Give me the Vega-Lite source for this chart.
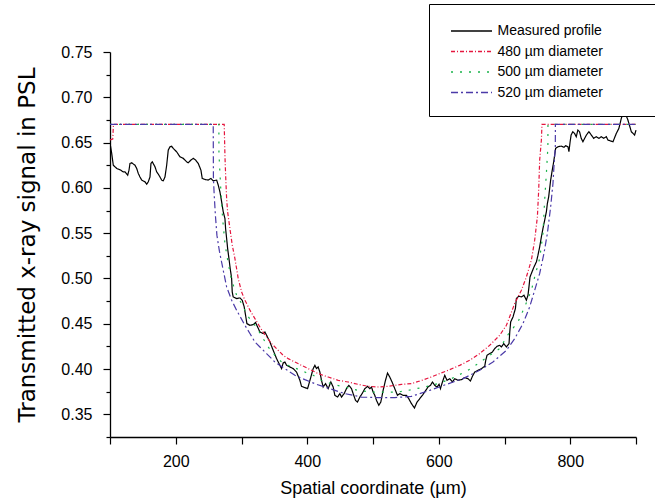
{
"$schema": "https://vega.github.io/schema/vega-lite/v6.json",
"width": 526, "height": 385,
"autosize": {"type": "none"},
"padding": {"left": 110, "top": 52, "right": 19, "bottom": 63},
"background": "white",
"config": {"view": {"stroke": null}, "font": "Liberation Sans"},
"data": {"values": [
{"s":"Measured profile","x":100.8,"y":0.646},{"s":"Measured profile","x":102.6,"y":0.638},{"s":"Measured profile","x":105,"y":0.625},{"s":"Measured profile","x":110.2,"y":0.6215},{"s":"Measured profile","x":115.2,"y":0.62},{"s":"Measured profile","x":120.2,"y":0.6177},{"s":"Measured profile","x":122.8,"y":0.6177},{"s":"Measured profile","x":126.9,"y":0.614},{"s":"Measured profile","x":128.9,"y":0.6196},{"s":"Measured profile","x":130.4,"y":0.627},{"s":"Measured profile","x":133,"y":0.6277},{"s":"Measured profile","x":138,"y":0.625},{"s":"Measured profile","x":140.6,"y":0.6215},{"s":"Measured profile","x":143,"y":0.616},{"s":"Measured profile","x":145.6,"y":0.612},{"s":"Measured profile","x":148.2,"y":0.6086},{"s":"Measured profile","x":153.2,"y":0.6067},{"s":"Measured profile","x":155.8,"y":0.604},{"s":"Measured profile","x":158.2,"y":0.6067},{"s":"Measured profile","x":160.8,"y":0.612},{"s":"Measured profile","x":162.3,"y":0.627},{"s":"Measured profile","x":164.3,"y":0.6288},{"s":"Measured profile","x":168.4,"y":0.6233},{"s":"Measured profile","x":171,"y":0.6177},{"s":"Measured profile","x":174.5,"y":0.614},{"s":"Measured profile","x":178.6,"y":0.6086},{"s":"Measured profile","x":181,"y":0.6078},{"s":"Measured profile","x":183.6,"y":0.612},{"s":"Measured profile","x":186.2,"y":0.625},{"s":"Measured profile","x":188.6,"y":0.6417},{"s":"Measured profile","x":191.2,"y":0.6454},{"s":"Measured profile","x":193.8,"y":0.646},{"s":"Measured profile","x":196.2,"y":0.6436},{"s":"Measured profile","x":201.4,"y":0.6398},{"s":"Measured profile","x":206.4,"y":0.6343},{"s":"Measured profile","x":211.4,"y":0.6326},{"s":"Measured profile","x":216.6,"y":0.6288},{"s":"Measured profile","x":219,"y":0.6277},{"s":"Measured profile","x":223.1,"y":0.6307},{"s":"Measured profile","x":226.6,"y":0.6326},{"s":"Measured profile","x":230.2,"y":0.6307},{"s":"Measured profile","x":234.2,"y":0.627},{"s":"Measured profile","x":238.3,"y":0.6196},{"s":"Measured profile","x":240.3,"y":0.6104},{"s":"Measured profile","x":244.4,"y":0.6093},{"s":"Measured profile","x":249.4,"y":0.6086},{"s":"Measured profile","x":253.5,"y":0.6104},{"s":"Measured profile","x":257,"y":0.6078},{"s":"Measured profile","x":262.2,"y":0.6086},{"s":"Measured profile","x":264.6,"y":0.6031},{"s":"Measured profile","x":267.2,"y":0.5956},{"s":"Measured profile","x":269.8,"y":0.5846},{"s":"Measured profile","x":272.2,"y":0.5736},{"s":"Measured profile","x":274.8,"y":0.5663},{"s":"Measured profile","x":275.8,"y":0.5552},{"s":"Measured profile","x":277.4,"y":0.5441},{"s":"Measured profile","x":278.9,"y":0.5331},{"s":"Measured profile","x":280.9,"y":0.5221},{"s":"Measured profile","x":282.8,"y":0.511},{"s":"Measured profile","x":285,"y":0.4999},{"s":"Measured profile","x":285.9,"y":0.4851},{"s":"Measured profile","x":287.4,"y":0.4796},{"s":"Measured profile","x":292.6,"y":0.4778},{"s":"Measured profile","x":297.6,"y":0.4785},{"s":"Measured profile","x":301.1,"y":0.476},{"s":"Measured profile","x":304.1,"y":0.4686},{"s":"Measured profile","x":306.2,"y":0.4594},{"s":"Measured profile","x":308.2,"y":0.4502},{"s":"Measured profile","x":312.8,"y":0.4483},{"s":"Measured profile","x":317.8,"y":0.4491},{"s":"Measured profile","x":321.4,"y":0.4513},{"s":"Measured profile","x":324.5,"y":0.4465},{"s":"Measured profile","x":328,"y":0.4409},{"s":"Measured profile","x":333,"y":0.4392},{"s":"Measured profile","x":335.6,"y":0.4409},{"s":"Measured profile","x":338.2,"y":0.4373},{"s":"Measured profile","x":343.2,"y":0.4299},{"s":"Measured profile","x":348.2,"y":0.4207},{"s":"Measured profile","x":353.3,"y":0.4116},{"s":"Measured profile","x":358.4,"y":0.4041},{"s":"Measured profile","x":360.9,"y":0.4005},{"s":"Measured profile","x":363.4,"y":0.4067},{"s":"Measured profile","x":366,"y":0.4078},{"s":"Measured profile","x":368.6,"y":0.4041},{"s":"Measured profile","x":373.6,"y":0.4023},{"s":"Measured profile","x":378.6,"y":0.4005},{"s":"Measured profile","x":383.7,"y":0.3967},{"s":"Measured profile","x":388.8,"y":0.3876},{"s":"Measured profile","x":391.3,"y":0.3809},{"s":"Measured profile","x":396.4,"y":0.3795},{"s":"Measured profile","x":400.5,"y":0.3784},{"s":"Measured profile","x":402.4,"y":0.3832},{"s":"Measured profile","x":405.5,"y":0.3912},{"s":"Measured profile","x":409,"y":0.4005},{"s":"Measured profile","x":411.6,"y":0.4041},{"s":"Measured profile","x":414.1,"y":0.4005},{"s":"Measured profile","x":416.6,"y":0.4023},{"s":"Measured profile","x":419.2,"y":0.3967},{"s":"Measured profile","x":421.7,"y":0.3876},{"s":"Measured profile","x":424.2,"y":0.3802},{"s":"Measured profile","x":427.8,"y":0.3839},{"s":"Measured profile","x":431.8,"y":0.3784},{"s":"Measured profile","x":435.9,"y":0.3857},{"s":"Measured profile","x":439.4,"y":0.3802},{"s":"Measured profile","x":442,"y":0.371},{"s":"Measured profile","x":446.1,"y":0.3691},{"s":"Measured profile","x":449.6,"y":0.3729},{"s":"Measured profile","x":452.1,"y":0.3691},{"s":"Measured profile","x":456.1,"y":0.3729},{"s":"Measured profile","x":459.7,"y":0.3784},{"s":"Measured profile","x":463.2,"y":0.382},{"s":"Measured profile","x":467.3,"y":0.3784},{"s":"Measured profile","x":469.8,"y":0.3729},{"s":"Measured profile","x":473.4,"y":0.3655},{"s":"Measured profile","x":476.4,"y":0.3636},{"s":"Measured profile","x":480,"y":0.3691},{"s":"Measured profile","x":483.5,"y":0.3729},{"s":"Measured profile","x":487.6,"y":0.3784},{"s":"Measured profile","x":491.7,"y":0.3809},{"s":"Measured profile","x":495.2,"y":0.3784},{"s":"Measured profile","x":497.7,"y":0.3802},{"s":"Measured profile","x":500.2,"y":0.3746},{"s":"Measured profile","x":502.7,"y":0.371},{"s":"Measured profile","x":505.3,"y":0.3655},{"s":"Measured profile","x":508.8,"y":0.36},{"s":"Measured profile","x":511.9,"y":0.3636},{"s":"Measured profile","x":515.4,"y":0.3765},{"s":"Measured profile","x":519,"y":0.3876},{"s":"Measured profile","x":522.1,"y":0.3956},{"s":"Measured profile","x":525.5,"y":0.3912},{"s":"Measured profile","x":529,"y":0.3857},{"s":"Measured profile","x":533.1,"y":0.3784},{"s":"Measured profile","x":537.2,"y":0.371},{"s":"Measured profile","x":540.7,"y":0.3729},{"s":"Measured profile","x":545.8,"y":0.371},{"s":"Measured profile","x":550.9,"y":0.371},{"s":"Measured profile","x":554.4,"y":0.3673},{"s":"Measured profile","x":558.5,"y":0.3618},{"s":"Measured profile","x":563,"y":0.357},{"s":"Measured profile","x":567,"y":0.3636},{"s":"Measured profile","x":571.1,"y":0.3673},{"s":"Measured profile","x":576.2,"y":0.3721},{"s":"Measured profile","x":580.3,"y":0.3765},{"s":"Measured profile","x":583.7,"y":0.3802},{"s":"Measured profile","x":587.4,"y":0.382},{"s":"Measured profile","x":590.4,"y":0.3857},{"s":"Measured profile","x":593.9,"y":0.382},{"s":"Measured profile","x":597.4,"y":0.3802},{"s":"Measured profile","x":600.5,"y":0.3832},{"s":"Measured profile","x":602.6,"y":0.3784},{"s":"Measured profile","x":605.6,"y":0.3857},{"s":"Measured profile","x":609.1,"y":0.3931},{"s":"Measured profile","x":612.6,"y":0.3876},{"s":"Measured profile","x":616.7,"y":0.3894},{"s":"Measured profile","x":620.8,"y":0.3857},{"s":"Measured profile","x":624.3,"y":0.3894},{"s":"Measured profile","x":629.3,"y":0.3876},{"s":"Measured profile","x":634.5,"y":0.3883},{"s":"Measured profile","x":639.5,"y":0.3906},{"s":"Measured profile","x":644.5,"y":0.3894},{"s":"Measured profile","x":648.2,"y":0.3868},{"s":"Measured profile","x":651.2,"y":0.392},{"s":"Measured profile","x":654.7,"y":0.3967},{"s":"Measured profile","x":659.7,"y":0.3986},{"s":"Measured profile","x":664.9,"y":0.4005},{"s":"Measured profile","x":669.9,"y":0.403},{"s":"Measured profile","x":671.5,"y":0.4097},{"s":"Measured profile","x":673.4,"y":0.4152},{"s":"Measured profile","x":677.5,"y":0.4171},{"s":"Measured profile","x":681.6,"y":0.4188},{"s":"Measured profile","x":685.1,"y":0.4226},{"s":"Measured profile","x":688.6,"y":0.4251},{"s":"Measured profile","x":692.7,"y":0.4262},{"s":"Measured profile","x":695.3,"y":0.4244},{"s":"Measured profile","x":698.8,"y":0.4281},{"s":"Measured profile","x":702.9,"y":0.4244},{"s":"Measured profile","x":706.9,"y":0.4281},{"s":"Measured profile","x":708,"y":0.4409},{"s":"Measured profile","x":709.4,"y":0.452},{"s":"Measured profile","x":712.9,"y":0.4575},{"s":"Measured profile","x":716.6,"y":0.4668},{"s":"Measured profile","x":718.1,"y":0.4779},{"s":"Measured profile","x":721.6,"y":0.4804},{"s":"Measured profile","x":725.7,"y":0.4796},{"s":"Measured profile","x":729.6,"y":0.4815},{"s":"Measured profile","x":733.3,"y":0.476},{"s":"Measured profile","x":735.7,"y":0.4815},{"s":"Measured profile","x":737.2,"y":0.4907},{"s":"Measured profile","x":738.8,"y":0.5017},{"s":"Measured profile","x":741.8,"y":0.5072},{"s":"Measured profile","x":744.9,"y":0.5128},{"s":"Measured profile","x":748.5,"y":0.5183},{"s":"Measured profile","x":750.9,"y":0.5257},{"s":"Measured profile","x":753.5,"y":0.5349},{"s":"Measured profile","x":756.1,"y":0.5459},{"s":"Measured profile","x":758.5,"y":0.5552},{"s":"Measured profile","x":761.1,"y":0.5644},{"s":"Measured profile","x":763.7,"y":0.5736},{"s":"Measured profile","x":765.2,"y":0.5828},{"s":"Measured profile","x":767.2,"y":0.5901},{"s":"Measured profile","x":768.7,"y":0.5994},{"s":"Measured profile","x":770.2,"y":0.6086},{"s":"Measured profile","x":772.2,"y":0.6178},{"s":"Measured profile","x":774.4,"y":0.627},{"s":"Measured profile","x":776.3,"y":0.6362},{"s":"Measured profile","x":777.8,"y":0.6436},{"s":"Measured profile","x":781.3,"y":0.6454},{"s":"Measured profile","x":786.5,"y":0.6461},{"s":"Measured profile","x":790.4,"y":0.6447},{"s":"Measured profile","x":793,"y":0.6465},{"s":"Measured profile","x":796.5,"y":0.6454},{"s":"Measured profile","x":798,"y":0.64},{"s":"Measured profile","x":799.8,"y":0.6509},{"s":"Measured profile","x":801.3,"y":0.6584},{"s":"Measured profile","x":803.9,"y":0.662},{"s":"Measured profile","x":806.5,"y":0.6602},{"s":"Measured profile","x":809.1,"y":0.6564},{"s":"Measured profile","x":811.6,"y":0.6638},{"s":"Measured profile","x":814.1,"y":0.662},{"s":"Measured profile","x":816.7,"y":0.6547},{"s":"Measured profile","x":819.3,"y":0.6509},{"s":"Measured profile","x":821.9,"y":0.6547},{"s":"Measured profile","x":824.5,"y":0.6583},{"s":"Measured profile","x":828.4,"y":0.662},{"s":"Measured profile","x":832.1,"y":0.6583},{"s":"Measured profile","x":835.6,"y":0.6547},{"s":"Measured profile","x":839.7,"y":0.6565},{"s":"Measured profile","x":843.6,"y":0.6547},{"s":"Measured profile","x":847.3,"y":0.6565},{"s":"Measured profile","x":850.8,"y":0.6547},{"s":"Measured profile","x":854.9,"y":0.6565},{"s":"Measured profile","x":857.3,"y":0.6528},{"s":"Measured profile","x":865,"y":0.6509},{"s":"Measured profile","x":870.1,"y":0.6602},{"s":"Measured profile","x":874,"y":0.6657},{"s":"Measured profile","x":877.7,"y":0.6768},{"s":"Measured profile","x":880.1,"y":0.6823},{"s":"Measured profile","x":882.7,"y":0.6834},{"s":"Measured profile","x":885,"y":0.68},{"s":"Measured profile","x":887.7,"y":0.6749},{"s":"Measured profile","x":892.9,"y":0.662},{"s":"Measured profile","x":897.9,"y":0.6583},{"s":"Measured profile","x":900,"y":0.6638},
{"s":"480  µm diameter","x":100,"y":0.653},{"s":"480  µm diameter","x":104.2,"y":0.654},{"s":"480  µm diameter","x":105.2,"y":0.67},{"s":"480  µm diameter","x":273.7,"y":0.67},{"s":"480  µm diameter","x":274.8,"y":0.636},{"s":"480  µm diameter","x":275.8,"y":0.615},{"s":"480  µm diameter","x":277.4,"y":0.588},{"s":"480  µm diameter","x":278.9,"y":0.5735},{"s":"480  µm diameter","x":282.4,"y":0.555},{"s":"480  µm diameter","x":285.9,"y":0.537},{"s":"480  µm diameter","x":290,"y":0.522},{"s":"480  µm diameter","x":295,"y":0.5},{"s":"480  µm diameter","x":300.2,"y":0.485},{"s":"480  µm diameter","x":305.2,"y":0.476},{"s":"480  µm diameter","x":312.8,"y":0.465},{"s":"480  µm diameter","x":320.4,"y":0.4557},{"s":"480  µm diameter","x":328,"y":0.4465},{"s":"480  µm diameter","x":334.5,"y":0.439},{"s":"480  µm diameter","x":345.7,"y":0.4281},{"s":"480  µm diameter","x":355.8,"y":0.4207},{"s":"480  µm diameter","x":363.4,"y":0.4152},{"s":"480  µm diameter","x":371,"y":0.4115},{"s":"480  µm diameter","x":381.2,"y":0.4078},{"s":"480  µm diameter","x":391.3,"y":0.4041},{"s":"480  µm diameter","x":401.4,"y":0.4005},{"s":"480  µm diameter","x":416.6,"y":0.395},{"s":"480  µm diameter","x":431.8,"y":0.3912},{"s":"480  µm diameter","x":447,"y":0.3876},{"s":"480  µm diameter","x":462.2,"y":0.3857},{"s":"480  µm diameter","x":477.4,"y":0.3831},{"s":"480  µm diameter","x":492.6,"y":0.381},{"s":"480  µm diameter","x":507.8,"y":0.3802},{"s":"480  µm diameter","x":523,"y":0.381},{"s":"480  µm diameter","x":543.3,"y":0.3831},{"s":"480  µm diameter","x":558.5,"y":0.3839},{"s":"480  µm diameter","x":571.1,"y":0.3868},{"s":"480  µm diameter","x":586.3,"y":0.3906},{"s":"480  µm diameter","x":601.5,"y":0.395},{"s":"480  µm diameter","x":616.7,"y":0.3994},{"s":"480  µm diameter","x":631.9,"y":0.4041},{"s":"480  µm diameter","x":647.1,"y":0.4097},{"s":"480  µm diameter","x":662.3,"y":0.4171},{"s":"480  µm diameter","x":677.5,"y":0.4262},{"s":"480  µm diameter","x":692.7,"y":0.4373},{"s":"480  µm diameter","x":702.9,"y":0.4483},{"s":"480  µm diameter","x":715.5,"y":0.4723},{"s":"480  µm diameter","x":725.7,"y":0.487},{"s":"480  µm diameter","x":733.3,"y":0.5017},{"s":"480  µm diameter","x":740.9,"y":0.5202},{"s":"480  µm diameter","x":745.9,"y":0.5423},{"s":"480  µm diameter","x":750,"y":0.568},{"s":"480  µm diameter","x":752,"y":0.5975},{"s":"480  µm diameter","x":753.5,"y":0.6307},{"s":"480  µm diameter","x":756.1,"y":0.6528},{"s":"480  µm diameter","x":757,"y":0.67},{"s":"480  µm diameter","x":900,"y":0.67},
{"s":"500  µm diameter","x":100,"y":0.67},{"s":"500  µm diameter","x":265.6,"y":0.67},{"s":"500  µm diameter","x":265.7,"y":0.638},{"s":"500  µm diameter","x":266.7,"y":0.6233},{"s":"500  µm diameter","x":267.9,"y":0.6067},{"s":"500  µm diameter","x":268.7,"y":0.5956},{"s":"500  µm diameter","x":271.3,"y":0.5662},{"s":"500  µm diameter","x":274.8,"y":0.5386},{"s":"500  µm diameter","x":279.8,"y":0.5165},{"s":"500  µm diameter","x":285,"y":0.4981},{"s":"500  µm diameter","x":292.6,"y":0.4815},{"s":"500  µm diameter","x":300.2,"y":0.4723},{"s":"500  µm diameter","x":309.7,"y":0.4583},{"s":"500  µm diameter","x":320.4,"y":0.4483},{"s":"500  µm diameter","x":325.4,"y":0.4428},{"s":"500  µm diameter","x":333,"y":0.4336},{"s":"500  µm diameter","x":340.6,"y":0.4244},{"s":"500  µm diameter","x":350.8,"y":0.4152},{"s":"500  µm diameter","x":360.9,"y":0.4078},{"s":"500  µm diameter","x":371,"y":0.4041},{"s":"500  µm diameter","x":383.7,"y":0.4005},{"s":"500  µm diameter","x":396.4,"y":0.3967},{"s":"500  µm diameter","x":409,"y":0.3931},{"s":"500  µm diameter","x":421.7,"y":0.3876},{"s":"500  µm diameter","x":439.4,"y":0.3831},{"s":"500  µm diameter","x":457.1,"y":0.3802},{"s":"500  µm diameter","x":477.4,"y":0.3765},{"s":"500  µm diameter","x":497.7,"y":0.3746},{"s":"500  µm diameter","x":517.9,"y":0.3746},{"s":"500  µm diameter","x":538.1,"y":0.3746},{"s":"500  µm diameter","x":553.3,"y":0.3765},{"s":"500  µm diameter","x":578.7,"y":0.3802},{"s":"500  µm diameter","x":598.9,"y":0.3839},{"s":"500  µm diameter","x":619.3,"y":0.3894},{"s":"500  µm diameter","x":644.5,"y":0.3986},{"s":"500  µm diameter","x":659.7,"y":0.406},{"s":"500  µm diameter","x":677.5,"y":0.4152},{"s":"500  µm diameter","x":692.7,"y":0.4226},{"s":"500  µm diameter","x":706.4,"y":0.4392},{"s":"500  µm diameter","x":720.5,"y":0.452},{"s":"500  µm diameter","x":730.7,"y":0.4686},{"s":"500  µm diameter","x":740.9,"y":0.487},{"s":"500  µm diameter","x":745.9,"y":0.5017},{"s":"500  µm diameter","x":753.5,"y":0.522},{"s":"500  µm diameter","x":758.5,"y":0.5497},{"s":"500  µm diameter","x":760.3,"y":0.5754},{"s":"500  µm diameter","x":761.1,"y":0.5865},{"s":"500  µm diameter","x":763.7,"y":0.616},{"s":"500  µm diameter","x":766,"y":0.6454},{"s":"500  µm diameter","x":766.1,"y":0.67},{"s":"500  µm diameter","x":900,"y":0.67},
{"s":"520  µm diameter","x":100,"y":0.67},{"s":"520  µm diameter","x":257,"y":0.67},{"s":"520  µm diameter","x":257.3,"y":0.6104},{"s":"520  µm diameter","x":258.5,"y":0.592},{"s":"520  µm diameter","x":260.3,"y":0.5699},{"s":"520  µm diameter","x":262.6,"y":0.5478},{"s":"520  µm diameter","x":266.4,"y":0.5301},{"s":"520  µm diameter","x":271.3,"y":0.5124},{"s":"520  µm diameter","x":277.4,"y":0.4907},{"s":"520  µm diameter","x":285,"y":0.476},{"s":"520  µm diameter","x":292.6,"y":0.4649},{"s":"520  µm diameter","x":305.2,"y":0.4483},{"s":"520  µm diameter","x":312.8,"y":0.4392},{"s":"520  µm diameter","x":320.4,"y":0.4299},{"s":"520  µm diameter","x":328,"y":0.4244},{"s":"520  µm diameter","x":338.1,"y":0.4171},{"s":"520  µm diameter","x":350.8,"y":0.4078},{"s":"520  µm diameter","x":366,"y":0.4005},{"s":"520  µm diameter","x":381.2,"y":0.3931},{"s":"520  µm diameter","x":396.4,"y":0.3883},{"s":"520  µm diameter","x":414.1,"y":0.3831},{"s":"520  µm diameter","x":434.3,"y":0.3784},{"s":"520  µm diameter","x":457.1,"y":0.3729},{"s":"520  µm diameter","x":482.5,"y":0.3691},{"s":"520  µm diameter","x":507.8,"y":0.3685},{"s":"520  µm diameter","x":533.1,"y":0.3685},{"s":"520  µm diameter","x":558.5,"y":0.3699},{"s":"520  µm diameter","x":586.3,"y":0.3765},{"s":"520  µm diameter","x":611.7,"y":0.3831},{"s":"520  µm diameter","x":636.9,"y":0.3894},{"s":"520  µm diameter","x":662.3,"y":0.3986},{"s":"520  µm diameter","x":682.5,"y":0.4078},{"s":"520  µm diameter","x":702.9,"y":0.4207},{"s":"520  µm diameter","x":715.5,"y":0.4336},{"s":"520  µm diameter","x":728.1,"y":0.4502},{"s":"520  µm diameter","x":738.3,"y":0.4686},{"s":"520  µm diameter","x":745.9,"y":0.487},{"s":"520  µm diameter","x":753.5,"y":0.5055},{"s":"520  µm diameter","x":760,"y":0.5276},{"s":"520  µm diameter","x":765.2,"y":0.5497},{"s":"520  µm diameter","x":770.2,"y":0.5791},{"s":"520  µm diameter","x":773.7,"y":0.6049},{"s":"520  µm diameter","x":775.2,"y":0.6233},{"s":"520  µm diameter","x":777.3,"y":0.6454},{"s":"520  µm diameter","x":777.4,"y":0.67},{"s":"520  µm diameter","x":900,"y":0.67}
]},
"mark": {"type": "line", "strokeWidth": 1.2, "interpolate": "linear"},
"encoding": {
  "x": {"field": "x", "type": "quantitative",
    "scale": {"domain": [100, 900], "nice": false, "zero": false},
    "axis": {"values": [100, 200, 300, 400, 500, 600, 700, 800, 900],
      "labelExpr": "datum.value % 200 == 0 ? datum.label : ''",
      "title": "Spatial coordinate (µm)", "grid": false,
      "domainColor": "black", "domainWidth": 1.3, "tickColor": "black", "tickWidth": 1.2, "tickSize": 7,
      "labelFont": "Liberation Sans", "labelFontSize": 16, "labelColor": "black", "labelPadding": 9,
      "titleFont": "Liberation Sans", "titleFontSize": 18, "titleFontWeight": "normal", "titleColor": "black", "titlePadding": 10}},
  "y": {"field": "y", "type": "quantitative",
    "scale": {"domain": [0.325, 0.75], "nice": false, "zero": false},
    "axis": {"values": [0.325, 0.35, 0.375, 0.4, 0.425, 0.45, 0.475, 0.5, 0.525, 0.55, 0.575, 0.6, 0.625, 0.65, 0.675, 0.7, 0.725, 0.75],
      "labelExpr": "round(datum.value*1000) % 50 == 0 ? format(datum.value, '.2f') : ''",
      "tickSize": {"condition": {"test": "round(datum.value*1000) % 50 == 0", "value": 7}, "value": 4},
      "title": "Transmitted x-ray signal in PSL", "grid": false,
      "domainColor": "black", "domainWidth": 1.3, "tickColor": "black", "tickWidth": 1.2,
      "labelFont": "Liberation Sans", "labelFontSize": 16, "labelColor": "black", "labelPadding": 11,
      "titleFont": "DejaVu Sans", "titleFontSize": 23, "titleFontWeight": "normal", "titleColor": "black", "titlePadding": 21}},
  "color": {"field": "s", "type": "nominal",
    "scale": {"domain": ["Measured profile", "480  µm diameter", "500  µm diameter", "520  µm diameter"],
              "range": ["#000000", "#e5173f", "#19b34a", "#4b3aa8"]},
    "legend": {"orient": "none", "legendX": 319, "legendY": -48, "title": " ", "titleOrient": "right", "titlePadding": 44, "titleFontSize": 14,
      "symbolType": "M-2,0H2", "symbolSize": 420, "symbolStrokeWidth": 1.3,
      "labelFont": "Liberation Sans", "labelFontSize": 14, "labelColor": "black", "labelOffset": 15,
      "strokeColor": "black", "fillColor": "white", "padding": 16, "rowPadding": 2.5, "symbolOffset": 15.5}},
  "strokeDash": {"field": "s", "type": "nominal",
    "scale": {"domain": ["Measured profile", "480  µm diameter", "500  µm diameter", "520  µm diameter"],
              "range": [[1, 0], [4, 2, 1, 2], [2, 7], [7, 3, 2, 3]]},
    "legend": {"orient": "none", "legendX": 319, "legendY": -48, "title": " ", "titleOrient": "right", "titlePadding": 44, "titleFontSize": 14,
      "symbolType": "M-2,0H2", "symbolSize": 420, "symbolStrokeWidth": 1.3,
      "labelFont": "Liberation Sans", "labelFontSize": 14, "labelColor": "black", "labelOffset": 15,
      "strokeColor": "black", "fillColor": "white", "padding": 16, "rowPadding": 2.5, "symbolOffset": 15.5}}
}
}
